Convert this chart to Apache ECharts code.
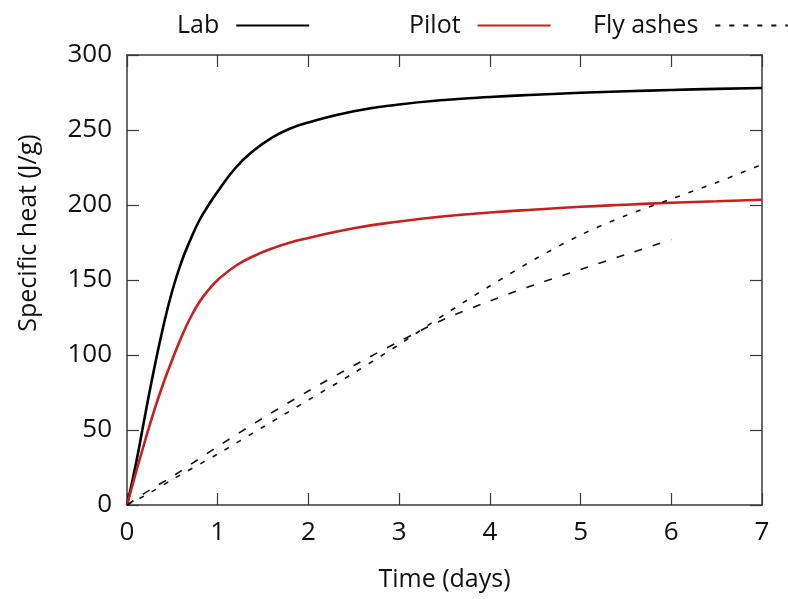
<!DOCTYPE html>
<html>
<head>
<meta charset="utf-8">
<script src="https://cdn.jsdelivr.net/npm/echarts@6/dist/echarts.min.js"></script>
<style>html,body{margin:0;padding:0;background:#fff;}#c{width:788px;height:599px;}</style>
</head>
<body>
<div id="c"></div>
<script>
const curveX = [0,0.1,0.2,0.3,0.4,0.5,0.6,0.7,0.8,0.9,1.0,1.2,1.4,1.6,1.8,2.0,2.5,3,3.5,4,4.5,5,5.5,6,6.5,7];
const labY   = [0,28,60,91,119,143,162,177,190,200,209,225,236.5,245,251,255,262.5,267,270,272,273.5,274.8,275.8,276.7,277.4,278];
const pilotY = [0,22,43,63,81,97,112,125,135.5,143.5,150,159.5,166,171,175,178,184.5,189,192.5,195,197,198.8,200.2,201.5,202.5,203.5];
const ashAX  = [0,0.25,0.5,1,1.5,2,2.5,3,3.5,4,4.5,5,5.5,6,6.5,7];
const ashAY  = [0,8,17,34,52,70,88,107,127,146,164,180,193,204,215,227];
const ashBX  = [0,0.25,0.5,1,1.5,2,2.5,3,3.5,4,4.5,5,5.5,6];
const ashBY  = [0,10,19,39,58,76,93,109,124,136,147,157,167,177];
const xTicks = [0,1,2,3,4,5,6,7];
const yTicks = [0,50,100,150,200,250,300];

const pairs = (xs, ys) => xs.map((x, i) => [x, ys[i]]);
const FONT = 'Open Sans';
const axisColor = '#3a3a3a';

const chart = echarts.init(document.getElementById('c'), null, {renderer: 'canvas'});
const baseAxis = () => ({
  type: 'value',
  axisLine: {show: true, onZero: false, lineStyle: {color: axisColor, width: 1.5}},
  axisTick: {show: true, inside: true, length: 12, lineStyle: {color: axisColor, width: 1.2}},
  splitLine: {show: false}
});
const legendCommon = () => ({
  top: 8, align: 'right', itemWidth: 73, itemHeight: 14,
  itemStyle: {opacity: 0},
  textStyle: {fontFamily: FONT, fontSize: 25, color: '#111', padding: [0, 12, 0, 0]},
  selectedMode: false
});
chart.setOption({
  animation: false,
  backgroundColor: '#fff',
  grid: {left: 127, right: 26, top: 55, bottom: 94, containLabel: false},
  legend: [
    Object.assign(legendCommon(), {left: 172, data: ['Lab']}),
    Object.assign(legendCommon(), {left: 404, data: ['Pilot']}),
    Object.assign(legendCommon(), {left: 588, data: ['Fly ashes']})
  ],
  xAxis: [
    Object.assign(baseAxis(), {
      min: xTicks[0], max: xTicks[xTicks.length - 1], interval: 1, position: 'bottom',
      name: 'Time (days)', nameLocation: 'middle', nameGap: 62,
      nameTextStyle: {fontFamily: FONT, fontSize: 25, color: '#111'},
      axisLabel: {fontFamily: FONT, fontSize: 26, color: '#111', margin: 15}
    }),
    Object.assign(baseAxis(), {
      min: xTicks[0], max: xTicks[xTicks.length - 1], interval: 1, position: 'top',
      axisLabel: {show: false}
    })
  ],
  yAxis: [
    Object.assign(baseAxis(), {
      min: yTicks[0], max: yTicks[yTicks.length - 1], interval: 50, position: 'left',
      name: 'Specific heat (J/g)', nameLocation: 'middle', nameGap: 86,
      nameTextStyle: {fontFamily: FONT, fontSize: 25, color: '#111', padding: [0, 0, 0, 94]},
      axisLabel: {fontFamily: FONT, fontSize: 26, color: '#111', margin: 15}
    }),
    Object.assign(baseAxis(), {
      min: yTicks[0], max: yTicks[yTicks.length - 1], interval: 50, position: 'right',
      axisLabel: {show: false}
    })
  ],
  series: [
    {name: 'Lab', type: 'line', data: pairs(curveX, labY), symbol: 'none', showSymbol: false, smooth: 0.5,
     lineStyle: {color: '#000', width: 2.6}, itemStyle: {color: '#000'}},
    {name: 'Pilot', type: 'line', data: pairs(curveX, pilotY), symbol: 'none', showSymbol: false, smooth: 0.5,
     lineStyle: {color: '#c8201e', width: 2.6}, itemStyle: {color: '#c8201e'}},
    {name: 'Fly ashes', type: 'line', data: pairs(ashAX, ashAY), symbol: 'none', showSymbol: false, smooth: 0.3,
     lineStyle: {color: '#111', width: 1.6, type: [5, 9]}, itemStyle: {color: '#111'}},
    {name: 'Fly ashes', type: 'line', data: pairs(ashBX, ashBY), symbol: 'none', showSymbol: false, smooth: 0.3,
     lineStyle: {color: '#111', width: 1.6, type: [8, 11]}, itemStyle: {color: '#111'}}
  ]
});
</script>
</body>
</html>
